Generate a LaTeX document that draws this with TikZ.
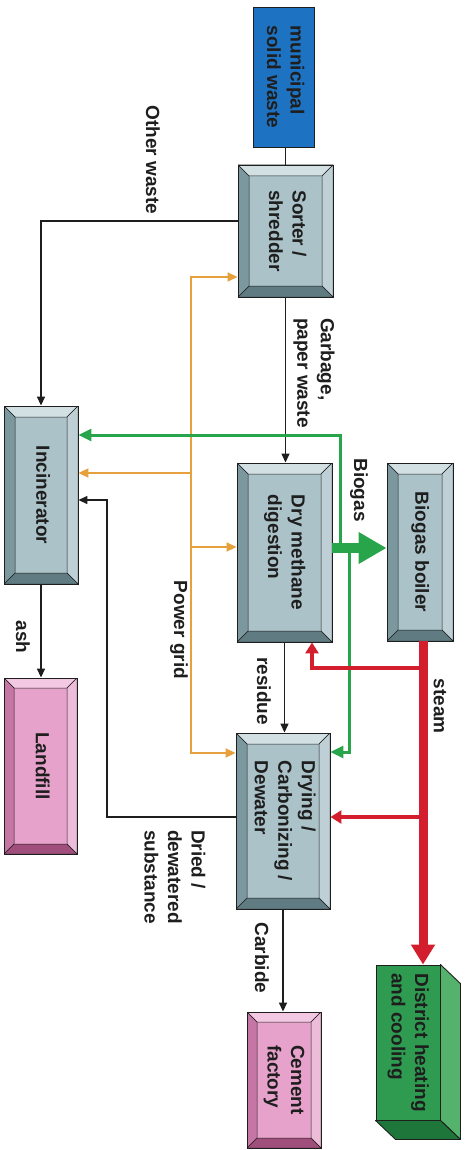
\documentclass[tikz,border=0pt]{standalone}
\usepackage{fontspec}
\setmainfont{Liberation Sans}
\usepackage{graphicx}
\usetikzlibrary{arrows.meta}
\definecolor{face}{RGB}{170,194,200}
\definecolor{btop}{RGB}{210,224,227}
\definecolor{bright}{RGB}{190,208,213}
\definecolor{bbot}{RGB}{96,124,130}
\definecolor{bleft}{RGB}{124,152,159}
\definecolor{pface}{RGB}{230,162,202}
\definecolor{ptop}{RGB}{243,200,226}
\definecolor{pright}{RGB}{236,188,216}
\definecolor{pbot}{RGB}{160,78,124}
\definecolor{pleft}{RGB}{198,118,164}
\definecolor{mswblue}{RGB}{30,114,194}
\definecolor{pgorange}{RGB}{230,160,60}
\definecolor{bgreen}{RGB}{40,165,75}
\definecolor{sred}{RGB}{210,30,45}
\definecolor{dfront}{RGB}{46,155,80}
\definecolor{dside}{RGB}{84,178,108}
\definecolor{dbot}{RGB}{30,118,58}
\definecolor{ink}{RGB}{30,30,30}
\newcommand\bevpaint[5]{%
  \path[fill=#2,draw=ink,line width=.5pt] (path picture bounding box.north west) -- (path picture bounding box.north east) -- ([shift={(-#1,-#1)}]path picture bounding box.north east) -- ([shift={(#1,-#1)}]path picture bounding box.north west) -- cycle;
  \path[fill=#3,draw=ink,line width=.5pt] (path picture bounding box.north east) -- (path picture bounding box.south east) -- ([shift={(-#1,#1)}]path picture bounding box.south east) -- ([shift={(-#1,-#1)}]path picture bounding box.north east) -- cycle;
  \path[fill=#4,draw=ink,line width=.5pt] (path picture bounding box.south east) -- (path picture bounding box.south west) -- ([shift={(#1,#1)}]path picture bounding box.south west) -- ([shift={(-#1,#1)}]path picture bounding box.south east) -- cycle;
  \path[fill=#5,draw=ink,line width=.5pt] (path picture bounding box.south west) -- (path picture bounding box.north west) -- ([shift={(#1,-#1)}]path picture bounding box.north west) -- ([shift={(#1,#1)}]path picture bounding box.south west) -- cycle;
}
\newcommand\rt[1]{\rotatebox{-90}{\begin{tabular}{@{}l@{}}#1\end{tabular}}}
\tikzset{
  txt/.style={font=\fontsize{19}{23.5}\selectfont\bfseries, text=ink},
  greybox/.style={txt, draw=ink, line width=.9pt, fill=face, inner sep=0pt, path picture={\bevpaint{11pt}{btop}{bright}{bbot}{bleft}}},
  pinkbox/.style={txt, draw=ink, line width=.9pt, fill=pface, inner sep=0pt, path picture={\bevpaint{10pt}{ptop}{pright}{pbot}{pleft}}},
  mswbox/.style={txt, draw=ink, line width=.9pt, fill=mswblue, inner sep=0pt},
  dbox/.style={txt, draw=ink, line width=.9pt, fill=dfront, inner sep=0pt},
  lbl/.style={txt, rotate=-90, align=left, inner sep=0pt},
  blkline/.style={draw=ink, line width=1.4pt},
  blk/.style={draw=ink, line width=1.4pt, -{Triangle[length=9pt,width=8pt]}},
  org/.style={draw=pgorange, line width=1.8pt},
  ohead/.style={-{Triangle[length=10pt,width=9pt]}},
  gthin/.style={draw=bgreen, line width=3pt, -{Triangle[length=13pt,width=12pt]}},
  gthick/.style={draw=bgreen, line width=10pt, -{Triangle[length=28pt,width=30pt]}},
  rthin/.style={draw=sred, line width=4pt, -{Triangle[length=11pt,width=13pt]}},
  rthick/.style={draw=sred, line width=9pt, -{Triangle[length=20pt,width=23pt]}},
}
\begin{document}
\begin{tikzpicture}[x=1pt,y=-1pt]
\useasboundingbox[fill=white] (0,0) rectangle (467,1150);
% boxes
\node[mswbox, minimum width=61pt, minimum height=140pt] (msw) at (283.5,77) {\rt{municipal\\solid waste}};
\node[greybox, minimum width=95pt, minimum height=132pt] (sorter) at (285.5,231) {\rt{Sorter /\\shredder}};
\node[greybox, minimum width=74pt, minimum height=178pt] (incin) at (41,495) {\rt{Incinerator}};
\node[greybox, minimum width=95pt, minimum height=179pt] (digest) at (284.5,552.5) {\rt{Dry methane\\digestion}};
\node[greybox, minimum width=66pt, minimum height=178pt] (boiler) at (420,552) {\rt{Biogas boiler}};
\node[greybox, minimum width=94pt, minimum height=176pt] (drying) at (283,821) {\rt{Drying /\\Carbonizing /\\Dewater}};
\node[pinkbox, minimum width=73pt, minimum height=176pt] (landfill) at (40.5,766) {\rt{Landfill}};
\node[pinkbox, minimum width=74pt, minimum height=136pt] (cement) at (284,1080) {\rt{Cement\\factory}};
\node[dbox, minimum width=64pt, minimum height=155pt] (district) at (408,1042.5) {\rt{District heating\\and cooling}};
\path[fill=dside, draw=ink, line width=.9pt, line join=round] (district.north east) -- ([shift={(20pt,-19pt)}]district.north east) -- ([shift={(20pt,-19pt)}]district.south east) -- (district.south east) -- cycle;
\path[fill=dbot, draw=ink, line width=.9pt, line join=round] (district.south west) -- (district.south east) -- ([shift={(20pt,-19pt)}]district.south east) -- ([shift={(20pt,-19pt)}]district.south west) -- cycle;
% labels
\node[lbl] (lother) at (153,160) {Other waste};
\node[lbl] (lgarb) at (314,373) {Garbage,\\paper waste};
\node[lbl] (lbiogas) at (359,490) {Biogas};
\node[lbl] (lsteam) at (440,706) {steam};
\node[lbl] (lres) at (264,691) {residue};
\node[lbl] (lpg) at (179,630) {Power grid};
\node[lbl] (lash) at (23,637) {ash};
\node[lbl] (ldried) at (175,877) {Dried /\\dewatered\\substance};
\node[lbl] (lcarb) at (262,958) {Carbide};
% coordinates
\coordinate (pgtop) at (191,277);
\coordinate (pgbot) at (191,753);
\coordinate (pginc) at (191,473);
\coordinate (pgdig) at (191,547);
\coordinate (dbend) at (107,500);
\coordinate (gup) at (340,548);
\coordinate (gupc) at (340,435);
\coordinate (gdn) at (349,548);
\coordinate (gdnc) at (349,752);
\coordinate (rj1) at (423,668);
\coordinate (rj2) at (423,817);
% black connectors
\draw[blkline] (sorter.north |- msw.south) -- (sorter.north);
\draw[blk] (sorter.west |- 0,221) -| (incin.north);
\draw[blk] (sorter.south) -- (sorter.south |- digest.north);
\draw[blk] (digest.south) -- (digest.south |- drying.north);
\draw[blk] (drying.south) -- (drying.south |- cement.north);
\draw[blk] (incin.south) -- (incin.south |- landfill.north);
\draw[blk] (drying.west |- 0,817) -| (dbend) -- (incin.east |- dbend);
% power grid
\draw[org, {Triangle[length=10pt,width=9pt]}-{Triangle[length=10pt,width=9pt]}] (sorter.west |- pgtop) -- (pgtop) -- (pgbot) -- (drying.west |- pgbot);
\draw[org, ohead] (pginc) -- (incin.east |- pginc);
\draw[org, ohead] (pgdig) -- (digest.west |- pgdig);
% biogas
\draw[gthin] (gup) -- (gupc) -- (incin.east |- gupc);
\draw[gthin] (gdn) -- (gdnc) -- (drying.east |- gdnc);
\draw[gthick] (digest.east |- 0,548) -- (boiler.west |- 0,548);
% steam
\draw[rthin] (rj1) -| (digest.south -| 312,0);
\draw[rthin] (rj2) -- (drying.east |- rj2);
\draw[rthick] (boiler.south -| 423,0) -- (district.north -| 423,0);
\end{tikzpicture}
\end{document}
